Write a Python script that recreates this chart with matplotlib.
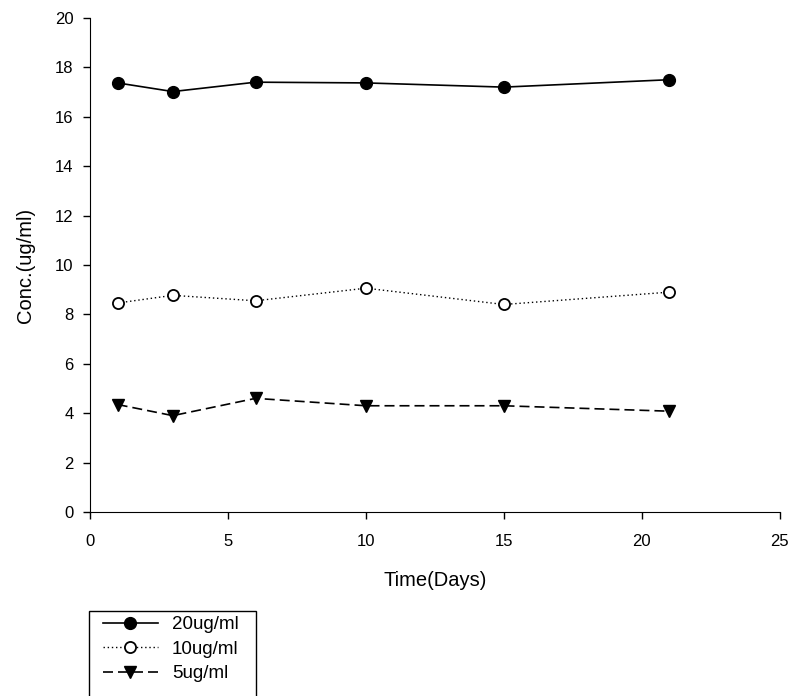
import matplotlib.pyplot as plt
from matplotlib.patches import Rectangle

plt.rcParams.update({'font.family': ['Liberation Sans', 'DejaVu Sans'], 'font.size': 12})

days = [1, 3, 6, 10, 15, 21]
conc_20 = [17.37, 17.02, 17.40, 17.37, 17.20, 17.50]
conc_10 = [8.46, 8.77, 8.55, 9.06, 8.40, 8.90]
conc_5 = [4.35, 3.90, 4.60, 4.30, 4.30, 4.08]
labels = ['20ug/ml', '10ug/ml', '5ug/ml']

fig = plt.figure(figsize=(7.9, 6.96), dpi=100)
ax = fig.add_axes([0.114, 0.2644, 0.873, 0.7098])

h1, = ax.plot(days, conc_20, color='black', lw=1.2, marker='o', ms=8.5,
              mfc='black', mec='black', label=labels[0])
h2, = ax.plot(days, conc_10, color='black', lw=1.0, ls=(0, (1, 2)), marker='o', ms=8,
              mfc='white', mec='black', mew=1.3, label=labels[1])
h3, = ax.plot(days, conc_5, color='black', lw=1.2, ls=(0, (6, 3)), marker='v', ms=9,
              mfc='black', mec='black', label=labels[2])

ax.set_xlim(0, 25)
ax.set_ylim(0, 20)
ax.set_xticks([0, 5, 10, 15, 20, 25])
ax.set_yticks(range(0, 21, 2))
ax.spines['top'].set_visible(False)
ax.spines['right'].set_visible(False)
ax.tick_params(direction='out', length=5, width=1, labelsize=12)
ax.tick_params(axis='x', pad=11)
ax.tick_params(axis='y', pad=7)
ax.set_xlabel('Time(Days)', fontsize=14.5, labelpad=16)
ax.set_ylabel('Conc.(ug/ml)', fontsize=14.5, labelpad=14)

# legend box runs past the bottom edge of the figure
fig.patches.append(Rectangle((89 / 790, -0.05), (256 - 89) / 790, 0.05 + 1 - 611 / 696,
                             transform=fig.transFigure, fill=False, ec='black', lw=1))
fig.legend(handles=[h1, h2, h3], loc='upper left', bbox_to_anchor=(103 / 790, 1 - 616 / 696),
           frameon=False, fontsize=13.5, handlelength=2.93, labelspacing=0.4, handletextpad=0.75,
           borderpad=0, borderaxespad=0)

fig.savefig('out.png', dpi=100)
